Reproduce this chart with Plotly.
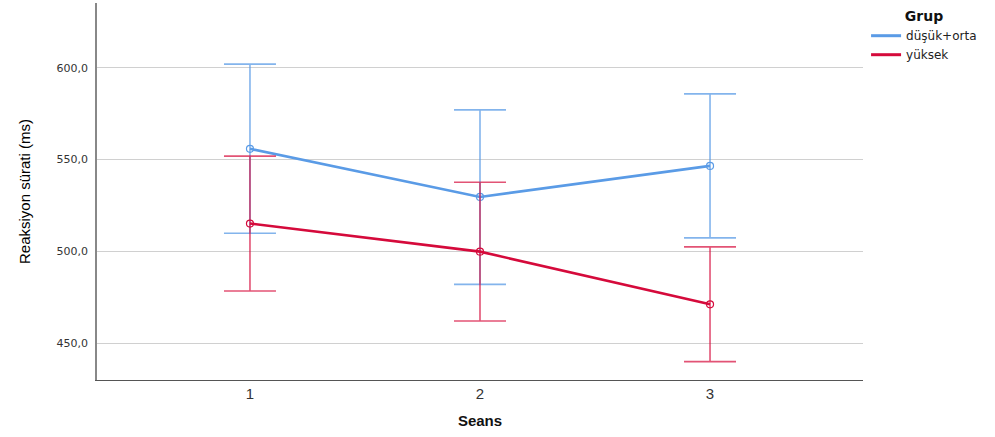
import plotly.graph_objects as go

# Session numbers on the x axis
seans = [1, 2, 3]

# Group means of reaction speed (ms) with 95% CI bounds
dusuk_orta_mean = [555.9, 529.7, 546.6]
dusuk_orta_upper = [602.0, 577.1, 585.8]
dusuk_orta_lower = [509.9, 482.1, 507.4]

yuksek_mean = [515.2, 499.9, 471.2]
yuksek_upper = [551.9, 537.7, 502.5]
yuksek_lower = [478.5, 462.1, 440.0]

y_tickvals = [450, 500, 550, 600]

BLUE = "#5A9BE6"
RED = "#D50A3B"


def series(name, means, upper, lower, color, err_color):
    plus = [u - m for u, m in zip(upper, means)]
    minus = [m - l for m, l in zip(means, lower)]
    return go.Scatter(
        x=seans,
        y=means,
        name=name,
        legendgroup=name,
        showlegend=False,
        mode="lines+markers",
        line=dict(color=color, width=2.6),
        marker=dict(symbol="circle-open", size=7, color=color, line=dict(width=1.2, color=color)),
        error_y=dict(
            type="data",
            symmetric=False,
            array=plus,
            arrayminus=minus,
            color=err_color,
            thickness=1.6,
            width=26,
        ),
    )


def legend_entry(name, color):
    # line-only swatch for the legend
    return go.Scatter(
        x=[None], y=[None], name=name, legendgroup=name,
        mode="lines", line=dict(color=color, width=3), showlegend=True,
    )


fig = go.Figure()
fig.add_trace(series("düşük+orta", dusuk_orta_mean, dusuk_orta_upper, dusuk_orta_lower,
                     BLUE, "rgba(90,155,230,0.75)"))
fig.add_trace(series("yüksek", yuksek_mean, yuksek_upper, yuksek_lower,
                     RED, "rgba(213,10,59,0.7)"))
fig.add_trace(legend_entry("düşük+orta", BLUE))
fig.add_trace(legend_entry("yüksek", RED))

fig.update_layout(
    width=995,
    height=437,
    margin=dict(l=97, r=132, t=3, b=57),
    plot_bgcolor="white",
    paper_bgcolor="white",
    separators=",.",
    font=dict(family="Liberation Sans, Arial, sans-serif", color="#222222"),
    xaxis=dict(
        range=[0.335, 3.665],
        tickvals=seans,
        ticktext=[str(s) for s in seans],
        tickfont=dict(size=15, color="#333333"),
        showgrid=False,
        zeroline=False,
        showline=True,
        linecolor="#555555",
        linewidth=1.3,
        ticks="",
        title=dict(text="<b>Seans</b>", font=dict(size=15, color="#111111"), standoff=14),
    ),
    yaxis=dict(
        range=[430, 635.3],
        tickvals=y_tickvals,
        tickformat=".1f",
        tickfont=dict(family="DejaVu Sans, sans-serif", size=11, color="#333333"),
        showgrid=True,
        gridcolor="#D0D0D0",
        gridwidth=1,
        zeroline=False,
        showline=True,
        linecolor="#888888",
        linewidth=1.5,
        ticks="",
        ticklabelstandoff=5,
        title=dict(
            text="Reaksiyon sürati (ms)",
            font=dict(family="Liberation Sans, Arial, sans-serif", size=15, color="#000000"),
            standoff=22,
        ),
    ),
    legend=dict(
        x=1.004,
        xanchor="left",
        y=1.0,
        yanchor="top",
        title=dict(text="<b>Grup</b>", font=dict(family="DejaVu Sans, sans-serif", size=14, color="#111111"),
                   side="top center"),
        font=dict(family="DejaVu Sans, sans-serif", size=12, color="#222222"),
        tracegroupgap=0,
        itemwidth=30,
        bgcolor="rgba(0,0,0,0)",
    ),
    showlegend=True,
)

fig.write_html("out.html")
